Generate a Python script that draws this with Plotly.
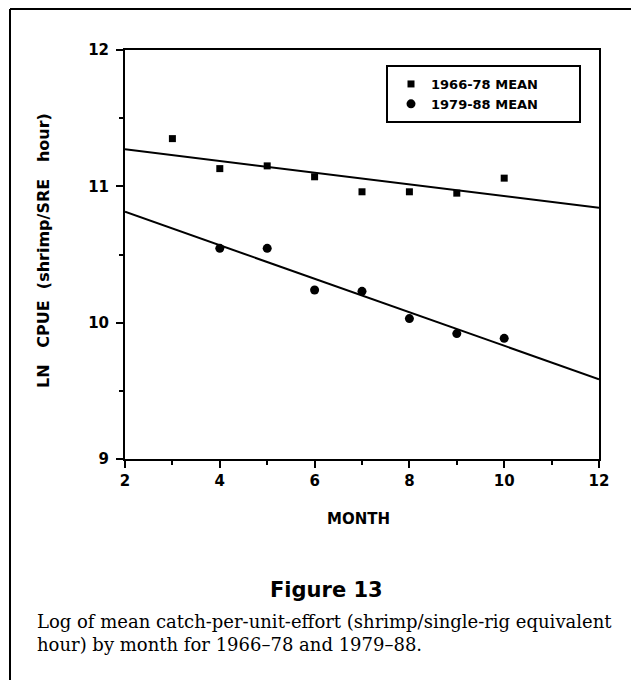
import numpy as np
import plotly.graph_objects as go

# ---- data ----
months_a = [3, 4, 5, 6, 7, 8, 9, 10]
cpue_a = [11.35, 11.13, 11.15, 11.07, 10.96, 10.96, 10.95, 11.06]   # 1966-78 MEAN
months_b = [4, 5, 6, 7, 8, 9, 10]
cpue_b = [10.545, 10.545, 10.24, 10.23, 10.03, 9.92, 9.885]          # 1979-88 MEAN
name_a = "1966-78 MEAN"
name_b = "1979-88 MEAN"
x_range = [2, 12]
y_range = [9, 12]
x_ticks = [2, 4, 6, 8, 10, 12]
y_ticks = [9, 10, 11, 12]
x_title = "MONTH"
y_title = "LN&nbsp;&nbsp;&nbsp;CPUE&nbsp;&nbsp;(shrimp/SRE&nbsp;&nbsp;&nbsp;hour)"
fig_label = "Figure 13"
caption = ("Log of mean catch-per-unit-effort (shrimp/single-rig equivalent<br>"
           "hour) by month for 1966\u201378 and 1979\u201388.")

# least-squares lines across the axis range
xs = np.array(x_range, dtype=float)
fit_a = np.polyval(np.polyfit(months_a, cpue_a, 1), xs)
fit_b = np.polyval(np.polyfit(months_b, cpue_b, 1), xs)

OFF = 8                      # page body offset in the screenshot
W, H = 639, 680
L, T = 125 - OFF, 50 - OFF
pw, ph = 474, 409
R = W - L - pw
B = H - T - ph

def px(xs_):                 # screen x -> paper x
    return (xs_ - OFF - L) / pw

def py(ys_):                 # screen y -> paper y
    return (T + ph - (ys_ - OFF)) / ph

sans = "DejaVu Sans, sans-serif"
serif = "DejaVu Serif, serif"

fig = go.Figure()
fig.add_trace(go.Scatter(x=months_a, y=cpue_a, mode="markers", name=name_a,
                         marker=dict(symbol="square", size=7, color="black",
                                     line=dict(width=0))))
fig.add_trace(go.Scatter(x=months_b, y=cpue_b, mode="markers", name=name_b,
                         marker=dict(symbol="circle", size=9, color="black",
                                     line=dict(width=0))))
fig.add_trace(go.Scatter(x=xs, y=fit_a, mode="lines", showlegend=False,
                         line=dict(color="black", width=2)))
fig.add_trace(go.Scatter(x=xs, y=fit_b, mode="lines", showlegend=False,
                         line=dict(color="black", width=2)))

tick_font = dict(family=sans, size=15, color="black", weight="bold")
axis_common = dict(showline=True, linecolor="black", linewidth=2, mirror=True,
                   ticks="outside", ticklen=7, tickwidth=2, tickcolor="black",
                   showgrid=False, zeroline=False)

fig.update_xaxes(range=x_range, tickvals=x_ticks, tickfont=tick_font, **axis_common,
                 minor=dict(dtick=1, ticks="outside", ticklen=4, tickwidth=2,
                            tickcolor="black", showgrid=False))
fig.update_yaxes(range=y_range, tickvals=y_ticks, tickfont=tick_font, **axis_common,
                 ticklabelstandoff=4,
                 minor=dict(dtick=0.5, ticks="outside", ticklen=4, tickwidth=2,
                            tickcolor="black", showgrid=False))

fig.update_layout(
    width=W, height=H,
    margin=dict(l=L, r=R, t=T, b=B, autoexpand=False),
    paper_bgcolor="white", plot_bgcolor="white",
    legend=dict(x=px(391), y=py(69), xanchor="left", yanchor="top",
                bgcolor="rgba(0,0,0,0)", borderwidth=0,
                font=dict(family=sans, size=13, color="black", weight="bold"),
                itemsizing="trace", tracegroupgap=0),
    shapes=[
        dict(type="line", xref="paper", yref="paper", x0=px(10), x1=px(W + 20),
             y0=py(9), y1=py(9), line=dict(color="black", width=2)),
        dict(type="line", xref="paper", yref="paper", x0=px(10), x1=px(10),
             y0=py(9), y1=py(H + 20), line=dict(color="black", width=2)),
        # legend frame
        dict(type="rect", xref="paper", yref="paper", x0=px(387), x1=px(580),
             y0=py(66), y1=py(122), line=dict(color="black", width=2),
             fillcolor="rgba(0,0,0,0)", layer="above"),
    ],
    annotations=[
        dict(text=y_title, xref="paper", yref="paper", x=px(43), y=py(251),
             textangle=-90, xanchor="center", yanchor="middle", showarrow=False,
             font=dict(family=sans, size=16, color="black", weight="bold")),
        dict(text=x_title, xref="paper", yref="paper", x=px(358), y=py(519),
             xanchor="center", yanchor="middle", showarrow=False,
             font=dict(family=sans, size=15, color="black", weight="bold")),
        dict(text=fig_label, xref="paper", yref="paper", x=px(326), y=py(590),
             xanchor="center", yanchor="middle", showarrow=False,
             font=dict(family=sans, size=21, color="black", weight="bold")),
        dict(text=caption, xref="paper", yref="paper", x=px(35), y=py(633),
             xanchor="left", yanchor="middle", align="left", showarrow=False,
             font=dict(family=serif, size=18, color="black")),
    ],
)

fig.write_html("out.html")
